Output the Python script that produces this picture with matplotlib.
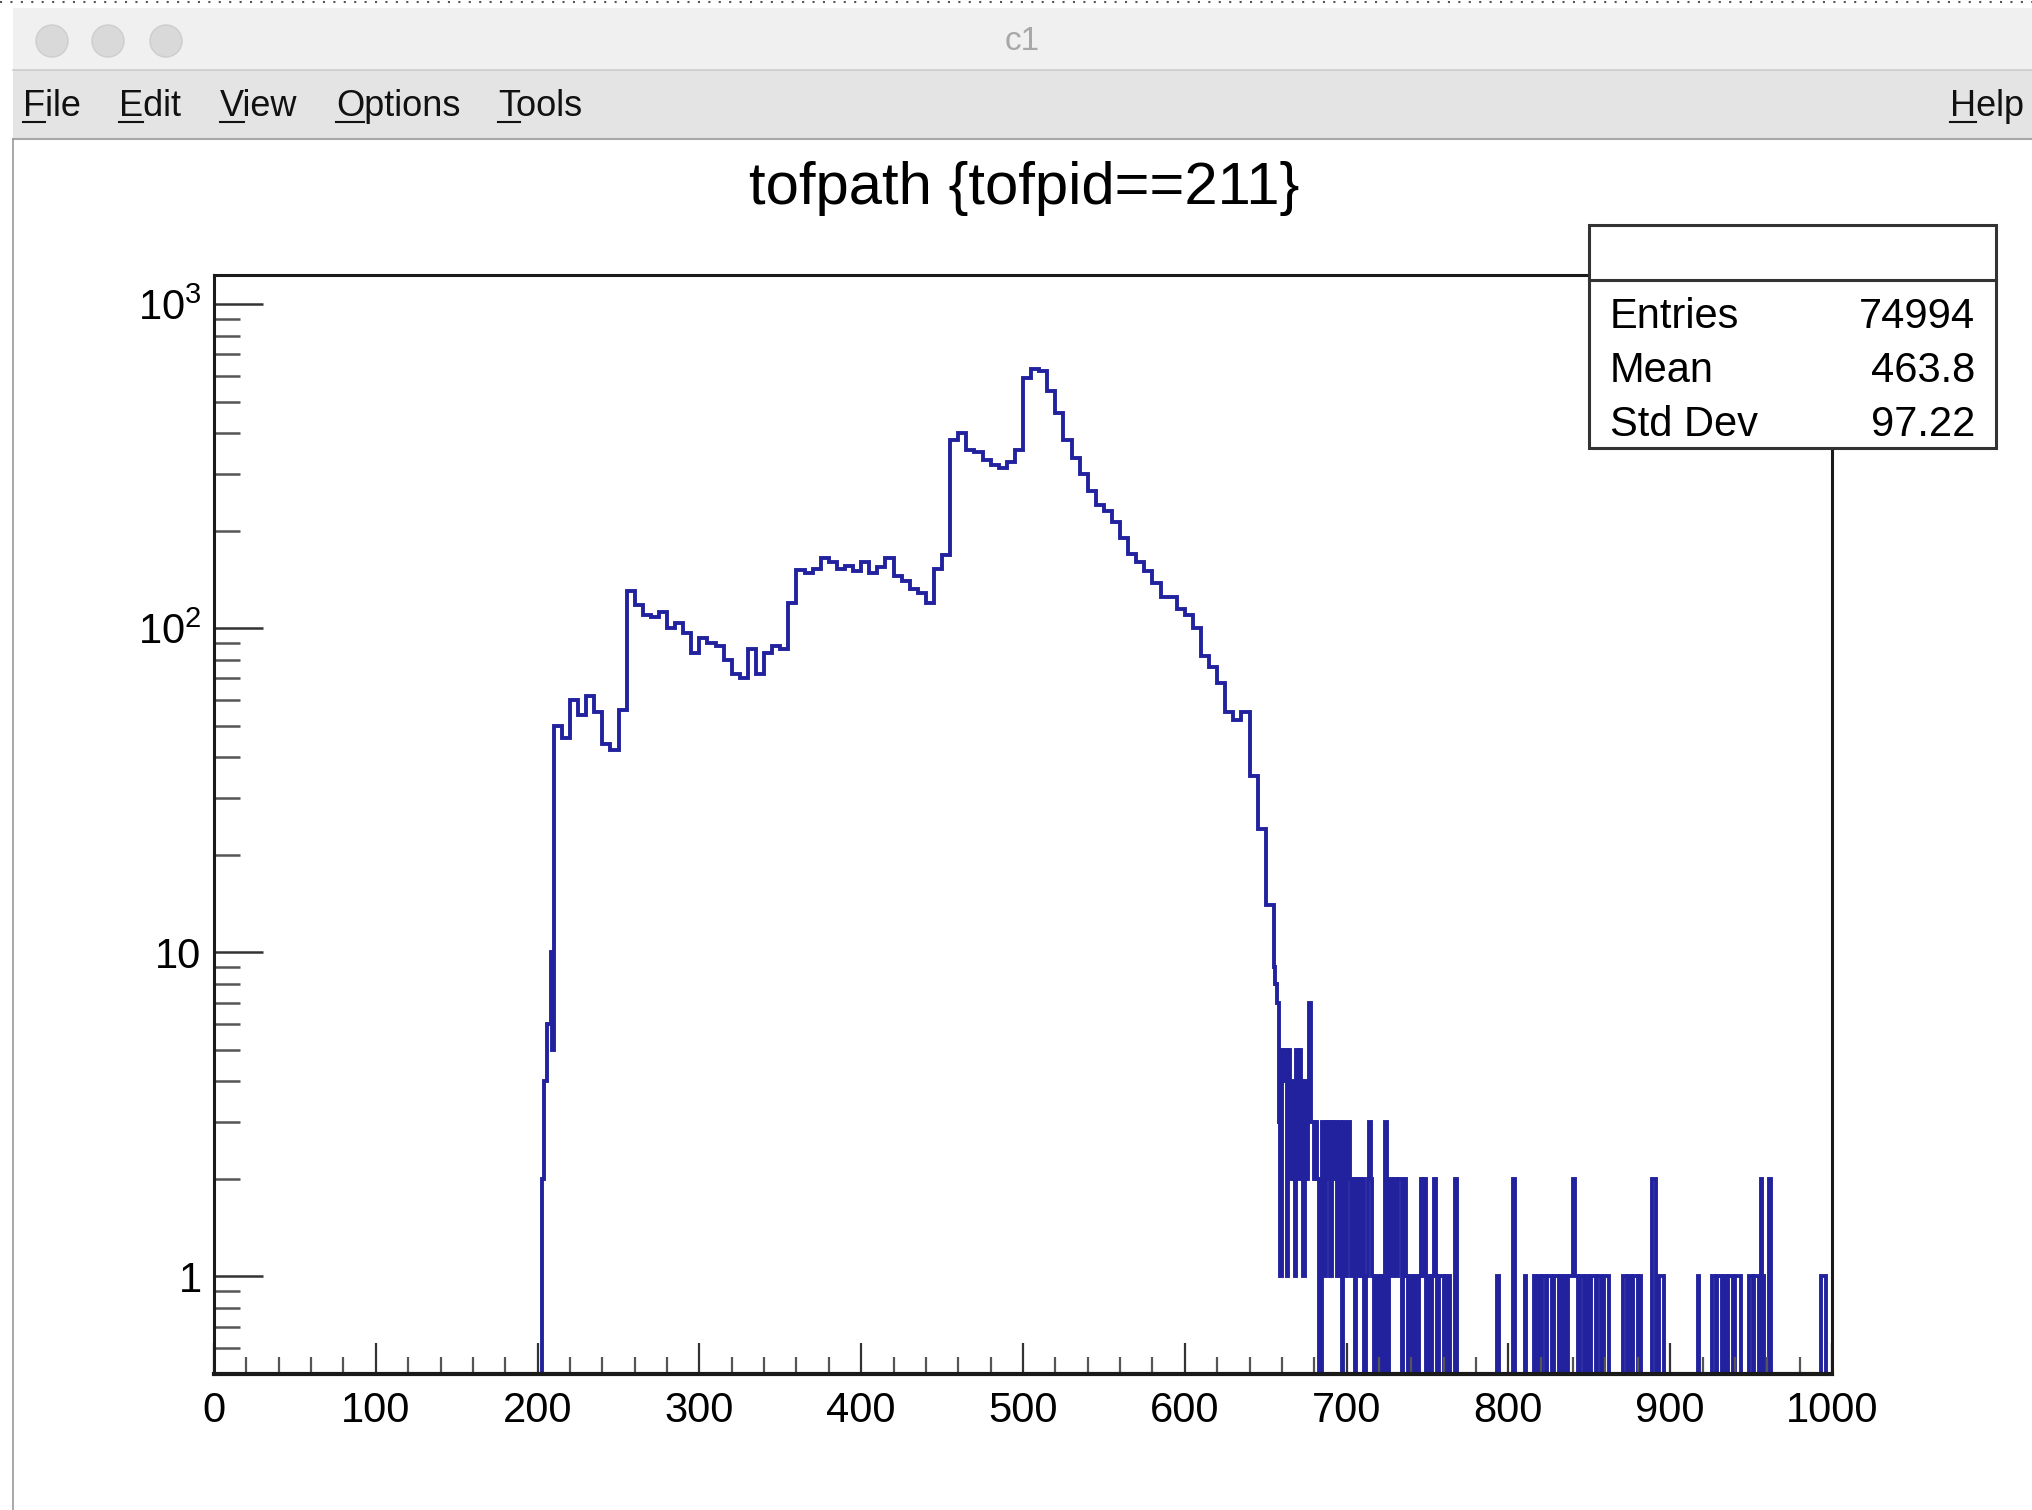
import numpy as np
import matplotlib
matplotlib.use('Agg')
import matplotlib.pyplot as plt
from matplotlib.patches import Rectangle, Ellipse
from matplotlib.lines import Line2D
from matplotlib.ticker import FixedLocator, FixedFormatter, MultipleLocator, NullFormatter, LogLocator

plt.rcParams['font.family'] = ['Liberation Sans', 'DejaVu Sans']
plt.rcParams['mathtext.fontset'] = 'custom'
plt.rcParams['mathtext.rm'] = 'Liberation Sans'

W, H = 2032, 1510

# ---- data ----
# steep rise, unit bins starting at 203
rise_start = 203
rise_counts = [2, 4, 4, 6, 6, 10, 5]

# main body, 5-wide bins from 210 to 655
main_start = 210
main_width = 5
main_counts = [50, 46, 60, 54, 62, 55, 44, 42, 56, 130,
               118, 110, 108, 112, 100, 104, 97, 84, 93, 90,
               88, 80, 72, 70, 86, 72, 84, 88, 86, 120,
               151, 148, 152, 165, 160, 152, 156, 150, 160, 148,
               155, 165, 145, 140, 132, 128, 120, 152, 168, 380,
               400, 355, 350, 330, 320, 312, 325, 355, 590, 630,
               620, 540, 460, 380, 335, 300, 265, 240, 230, 212,
               190, 170, 160, 150, 138, 125, 125, 115, 110, 100,
               82, 76, 68, 55, 52, 55, 35, 24, 14]

# tail, unit bins 655..767
tail_start = 655
tail_counts = [9, 8, 7, 3, 1, 5, 4, 5, 1, 5,
               2, 4, 2, 1, 5, 2, 5, 4, 1, 4,
               2, 3, 7, 3, 3, 2, 3, 2, 0, 0,
               3, 1, 3, 2, 3, 1, 3, 2, 3, 1,
               3, 2, 0, 3, 1, 2, 3, 2, 1, 2,
               0, 2, 1, 2, 1, 2, 0, 1, 2, 3,
               2, 1, 0, 1, 1, 0, 1, 0, 0, 3,
               0, 2, 2, 1, 2, 2, 1, 2, 2, 0,
               1, 2, 1, 0, 1, 1, 0, 1, 1, 0,
               1, 2, 1, 2, 0, 1, 1, 0, 1, 2,
               1, 0, 1, 1, 1, 0, 1, 0, 1, 0,
               0, 0, 2]

# sparse single counts beyond 768 (unit bins)
sparse_x = [793, 803, 810, 816, 818, 819, 821, 822, 824, 825, 826, 828, 829, 830,
            832, 833, 835, 837, 838, 839, 840, 841, 842, 844, 845, 846, 848, 849,
            851, 852, 853, 855, 856, 859, 860, 861, 871, 872, 874, 875, 877, 878,
            879, 881, 889, 890, 893, 894, 895, 917, 926, 927, 929, 930, 931, 933,
            934, 936, 937, 938, 940, 941, 942, 943, 949, 950, 952, 953, 954, 956,
            957, 961, 993, 994, 995]
sparse_n = [1, 2, 1, 1, 1, 1, 1, 1, 1, 1, 1, 1, 1, 1,
            1, 1, 1, 1, 1, 1, 2, 1, 1, 1, 1, 1, 1, 1,
            1, 1, 1, 1, 1, 1, 1, 1, 1, 1, 1, 1, 1, 1,
            1, 1, 2, 2, 1, 1, 1, 1, 1, 1, 1, 1, 1, 1,
            1, 1, 1, 1, 1, 1, 1, 1, 1, 1, 1, 1, 1, 2,
            1, 2, 1, 1, 1]

stats_labels = ['Entries', 'Mean', 'Std Dev']
stats_values = ['74994', '463.8', '97.22']
menu_items = ['File', 'Edit', 'View', 'Options', 'Tools']

# ---- build histogram edges ----
edges = [0.0]
vals = [0.0]
edges.append(rise_start)
for c in rise_counts:
    vals.append(c)
    edges.append(edges[-1] + 1)
for c in main_counts:
    vals.append(c)
    edges.append(edges[-1] + main_width)
for c in tail_counts:
    vals.append(c)
    edges.append(edges[-1] + 1)
rest_start = int(edges[-1])
rest = np.zeros(1000 - rest_start)
for x, n in zip(sparse_x, sparse_n):
    rest[x - rest_start] = n
for c in rest:
    vals.append(c)
    edges.append(edges[-1] + 1)
vals = np.array(vals, dtype=float)
edges = np.array(edges, dtype=float)
vals_draw = np.where(vals > 0, vals, 0.1)


def fx(px):
    return px / W


def fy(py):
    return 1 - py / H


fig = plt.figure(figsize=(W / 100, H / 100), dpi=100)
fig.patch.set_facecolor('white')

# ---- window chrome ----
fig.add_artist(Line2D([0, 1], [fy(2), fy(2)], color='#555555', lw=1.5,
                      ls=(0, (1, 4)), transform=fig.transFigure))
fig.add_artist(Rectangle((fx(13), fy(70)), fx(W - 13), 62 / H, transform=fig.transFigure,
                         fc='#f0f0f0', ec='none'))
fig.add_artist(Rectangle((fx(13), fy(139)), fx(W - 13), 69 / H, transform=fig.transFigure,
                         fc='#e4e4e4', ec='none'))
fig.add_artist(Line2D([fx(13), 1], [fy(70), fy(70)], color='#cccccc', lw=1.2,
                      transform=fig.transFigure))
fig.add_artist(Line2D([fx(13), 1], [fy(139), fy(139)], color='#a8a8a8', lw=1.5,
                      transform=fig.transFigure))
fig.add_artist(Line2D([fx(13), fx(13)], [fy(139), 0], color='#9a9a9a', lw=1.2,
                      transform=fig.transFigure))
for cx in [52, 108, 166]:
    fig.add_artist(Ellipse((fx(cx), fy(41)), 32 / W, 32 / H, transform=fig.transFigure,
                           fc='#d9d9d9', ec='#cdcdcd', lw=1))
fig.text(fx(1022), fy(42), 'c1', fontsize=24, color='#a8a8a8', ha='center', va='center')

menu_x = [23, 119, 220, 336, 498]
menu_texts = []
for name, mx in zip(menu_items, menu_x):
    t = fig.text(fx(mx), fy(116), name, fontsize=26, color='#111111', ha='left', va='baseline')
    menu_texts.append(t)
help_t = fig.text(fx(2024), fy(116), 'Help', fontsize=26, color='#111111', ha='right', va='baseline')
menu_texts.append(help_t)

# ---- the histogram ----
ax = fig.add_axes([fx(214), fy(1374), (1832 - 214) / W, (1374 - 275) / H])
ax.stairs(vals_draw, edges, color='#22229f', lw=2.8, baseline=None)
ax.set_yscale('log')
ax.set_xlim(0, 1000)
ax.set_ylim(0.5, 1230)

ax.yaxis.set_major_locator(FixedLocator([1, 10, 100, 1000]))
ax.yaxis.set_major_formatter(FixedFormatter(['1', '10', r'$\mathregular{10^{2}}$',
                                             r'$\mathregular{10^{3}}$']))
ax.yaxis.set_minor_locator(LogLocator(base=10, subs=np.arange(2, 10), numticks=20))
ax.yaxis.set_minor_formatter(NullFormatter())
ax.xaxis.set_major_locator(MultipleLocator(100))
ax.xaxis.set_minor_locator(MultipleLocator(20))

ax.tick_params(axis='y', which='major', direction='in', length=35, width=1.8,
               color='#333333', labelsize=30, pad=9, right=False)
ax.tick_params(axis='y', which='minor', direction='in', length=19, width=1.8,
               color='#555555', right=False)
ax.tick_params(axis='x', which='major', direction='in', length=22, width=1.6,
               color='#333333', labelsize=30, pad=12, top=False)
ax.tick_params(axis='x', which='minor', direction='in', length=12, width=1.6,
               color='#555555', top=False)
for s in ax.spines.values():
    s.set_linewidth(2.2)
    s.set_color('#1a1a1a')
ax.spines['bottom'].set_linewidth(3)

fig.text(fx(1024), fy(189), 'tofpath {tofpid==211}', fontsize=43, ha='center', va='center')

# ---- stats box ----
fig.add_artist(Rectangle((fx(1589), fy(448)), (1996 - 1589) / W, (448 - 225) / H,
                         transform=fig.transFigure, fc='white', ec='#333333', lw=2.2, zorder=5))
fig.add_artist(Line2D([fx(1589), fx(1996)], [fy(280), fy(280)], color='#333333', lw=2.2,
                      transform=fig.transFigure, zorder=6))
for i, (lab, v) in enumerate(zip(stats_labels, stats_values)):
    yb = 328 + 54 * i
    fig.text(fx(1610), fy(yb), lab, fontsize=30, ha='left', va='baseline', zorder=7)
    fig.text(fx(1975), fy(yb), v, fontsize=30, ha='right', va='baseline', zorder=7)

# underline the menu mnemonics
fig.canvas.draw()
r = fig.canvas.get_renderer()
for t in menu_texts:
    bb = t.get_window_extent(renderer=r)
    tmp = fig.text(0, 0, t.get_text()[0], fontsize=26)
    w = tmp.get_window_extent(renderer=r).width
    tmp.remove()
    x0 = bb.x0
    fig.add_artist(Line2D([x0 / W, (x0 + w) / W], [fy(122), fy(122)], color='#111111', lw=1.5,
                          transform=fig.transFigure))

fig.savefig('out.png', dpi=100)
